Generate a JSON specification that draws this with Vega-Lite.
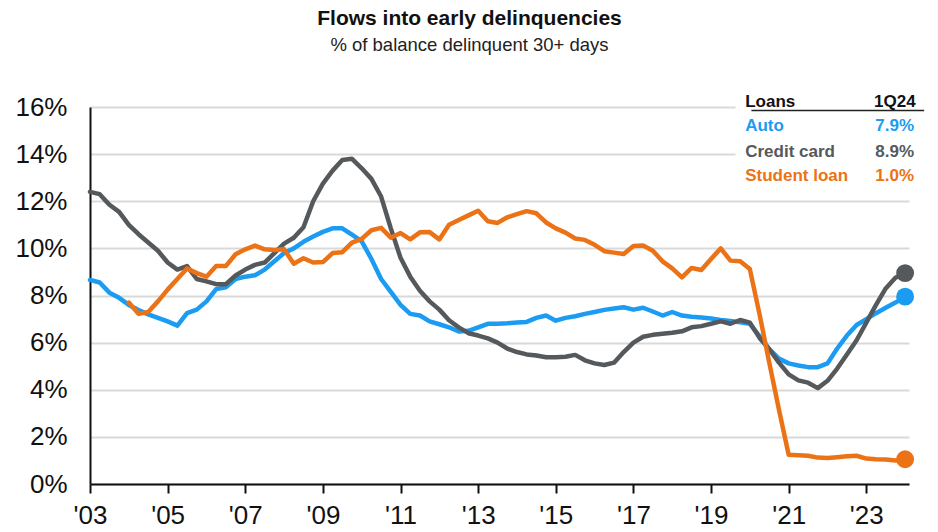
{
  "$schema": "https://vega.github.io/schema/vega-lite/v6.json",
  "width": 819,
  "height": 377,
  "autosize": {"type": "none"},
  "padding": {"left": 90, "top": 107, "right": 29, "bottom": 48},
  "background": "white",
  "config": {"view": {"stroke": null}, "font": "Liberation Sans"},
  "title": {
    "text": "Flows into early delinquencies",
    "subtitle": "% of balance delinquent 30+ days",
    "fontSize": 21,
    "fontWeight": "bold",
    "subtitleFontSize": 18.5,
    "color": "#111111",
    "subtitleColor": "#222222",
    "font": "Liberation Sans",
    "subtitleFont": "Liberation Sans",
    "anchor": "middle",
    "frame": "group",
    "dx": -30,
    "offset": 38,
    "subtitlePadding": 7
  },
  "datasets": {
    "series": [
      {"date": 2003.00, "Auto": 8.66, "Credit card": 12.4},
      {"date": 2003.25, "Auto": 8.55, "Credit card": 12.3},
      {"date": 2003.50, "Auto": 8.12, "Credit card": 11.85},
      {"date": 2003.75, "Auto": 7.9, "Credit card": 11.55},
      {"date": 2004.00, "Auto": 7.6, "Credit card": 11.0, "Student loan": 7.7},
      {"date": 2004.25, "Auto": 7.38, "Credit card": 10.6, "Student loan": 7.22},
      {"date": 2004.50, "Auto": 7.2, "Credit card": 10.25, "Student loan": 7.3},
      {"date": 2004.75, "Auto": 7.05, "Credit card": 9.9, "Student loan": 7.75},
      {"date": 2005.00, "Auto": 6.9, "Credit card": 9.4, "Student loan": 8.25},
      {"date": 2005.25, "Auto": 6.72, "Credit card": 9.1, "Student loan": 8.7},
      {"date": 2005.50, "Auto": 7.25, "Credit card": 9.25, "Student loan": 9.15},
      {"date": 2005.75, "Auto": 7.4, "Credit card": 8.7, "Student loan": 8.95},
      {"date": 2006.00, "Auto": 7.75, "Credit card": 8.6, "Student loan": 8.8},
      {"date": 2006.25, "Auto": 8.27, "Credit card": 8.48, "Student loan": 9.25},
      {"date": 2006.50, "Auto": 8.35, "Credit card": 8.48, "Student loan": 9.25},
      {"date": 2006.75, "Auto": 8.7, "Credit card": 8.85, "Student loan": 9.75},
      {"date": 2007.00, "Auto": 8.8, "Credit card": 9.1, "Student loan": 9.96},
      {"date": 2007.25, "Auto": 8.86, "Credit card": 9.3, "Student loan": 10.12},
      {"date": 2007.50, "Auto": 9.1, "Credit card": 9.4, "Student loan": 9.96},
      {"date": 2007.75, "Auto": 9.45, "Credit card": 9.8, "Student loan": 9.93},
      {"date": 2008.00, "Auto": 9.8, "Credit card": 10.2, "Student loan": 9.96},
      {"date": 2008.25, "Auto": 10.0, "Credit card": 10.45, "Student loan": 9.35},
      {"date": 2008.50, "Auto": 10.28, "Credit card": 10.9, "Student loan": 9.58},
      {"date": 2008.75, "Auto": 10.5, "Credit card": 12.0, "Student loan": 9.4},
      {"date": 2009.00, "Auto": 10.7, "Credit card": 12.75, "Student loan": 9.42},
      {"date": 2009.25, "Auto": 10.85, "Credit card": 13.3, "Student loan": 9.8},
      {"date": 2009.50, "Auto": 10.85, "Credit card": 13.75, "Student loan": 9.84},
      {"date": 2009.75, "Auto": 10.58, "Credit card": 13.8, "Student loan": 10.24},
      {"date": 2010.00, "Auto": 10.3, "Credit card": 13.4, "Student loan": 10.4},
      {"date": 2010.25, "Auto": 9.55, "Credit card": 12.95, "Student loan": 10.77},
      {"date": 2010.50, "Auto": 8.7, "Credit card": 12.2, "Student loan": 10.87},
      {"date": 2010.75, "Auto": 8.15, "Credit card": 10.85, "Student loan": 10.45},
      {"date": 2011.00, "Auto": 7.6, "Credit card": 9.6, "Student loan": 10.65},
      {"date": 2011.25, "Auto": 7.22, "Credit card": 8.8, "Student loan": 10.38},
      {"date": 2011.50, "Auto": 7.15, "Credit card": 8.2, "Student loan": 10.68},
      {"date": 2011.75, "Auto": 6.9, "Credit card": 7.75, "Student loan": 10.69},
      {"date": 2012.00, "Auto": 6.78, "Credit card": 7.4, "Student loan": 10.38},
      {"date": 2012.25, "Auto": 6.65, "Credit card": 6.95, "Student loan": 11.0},
      {"date": 2012.50, "Auto": 6.47, "Credit card": 6.65, "Student loan": 11.2},
      {"date": 2012.75, "Auto": 6.5, "Credit card": 6.4, "Student loan": 11.4},
      {"date": 2013.00, "Auto": 6.65, "Credit card": 6.3, "Student loan": 11.6},
      {"date": 2013.25, "Auto": 6.8, "Credit card": 6.18, "Student loan": 11.15},
      {"date": 2013.50, "Auto": 6.8, "Credit card": 6.0, "Student loan": 11.08},
      {"date": 2013.75, "Auto": 6.82, "Credit card": 5.75, "Student loan": 11.32},
      {"date": 2014.00, "Auto": 6.85, "Credit card": 5.6, "Student loan": 11.45},
      {"date": 2014.25, "Auto": 6.88, "Credit card": 5.5, "Student loan": 11.58},
      {"date": 2014.50, "Auto": 7.05, "Credit card": 5.45, "Student loan": 11.49},
      {"date": 2014.75, "Auto": 7.15, "Credit card": 5.38, "Student loan": 11.1},
      {"date": 2015.00, "Auto": 6.93, "Credit card": 5.38, "Student loan": 10.85},
      {"date": 2015.25, "Auto": 7.05, "Credit card": 5.4, "Student loan": 10.67},
      {"date": 2015.50, "Auto": 7.12, "Credit card": 5.48, "Student loan": 10.42},
      {"date": 2015.75, "Auto": 7.22, "Credit card": 5.25, "Student loan": 10.36},
      {"date": 2016.00, "Auto": 7.3, "Credit card": 5.12, "Student loan": 10.15},
      {"date": 2016.25, "Auto": 7.39, "Credit card": 5.05, "Student loan": 9.88},
      {"date": 2016.50, "Auto": 7.45, "Credit card": 5.15, "Student loan": 9.82},
      {"date": 2016.75, "Auto": 7.5, "Credit card": 5.6, "Student loan": 9.76},
      {"date": 2017.00, "Auto": 7.4, "Credit card": 6.0, "Student loan": 10.1},
      {"date": 2017.25, "Auto": 7.48, "Credit card": 6.25, "Student loan": 10.12},
      {"date": 2017.50, "Auto": 7.32, "Credit card": 6.33, "Student loan": 9.9},
      {"date": 2017.75, "Auto": 7.15, "Credit card": 6.38, "Student loan": 9.45},
      {"date": 2018.00, "Auto": 7.3, "Credit card": 6.42, "Student loan": 9.15},
      {"date": 2018.25, "Auto": 7.15, "Credit card": 6.48, "Student loan": 8.77},
      {"date": 2018.50, "Auto": 7.1, "Credit card": 6.65, "Student loan": 9.17},
      {"date": 2018.75, "Auto": 7.07, "Credit card": 6.7, "Student loan": 9.08},
      {"date": 2019.00, "Auto": 7.02, "Credit card": 6.8, "Student loan": 9.55},
      {"date": 2019.25, "Auto": 6.96, "Credit card": 6.9, "Student loan": 10.0},
      {"date": 2019.50, "Auto": 6.92, "Credit card": 6.8, "Student loan": 9.48},
      {"date": 2019.75, "Auto": 6.86, "Credit card": 6.96, "Student loan": 9.45},
      {"date": 2020.00, "Auto": 6.8, "Credit card": 6.85, "Student loan": 9.12},
      {"date": 2020.25, "Auto": 6.28, "Credit card": 6.2, "Student loan": 7.2},
      {"date": 2020.50, "Auto": 5.72, "Credit card": 5.72, "Student loan": 5.15},
      {"date": 2020.75, "Auto": 5.32, "Credit card": 5.15, "Student loan": 3.15},
      {"date": 2021.00, "Auto": 5.12, "Credit card": 4.65, "Student loan": 1.24},
      {"date": 2021.25, "Auto": 5.03, "Credit card": 4.4, "Student loan": 1.22},
      {"date": 2021.50, "Auto": 4.96, "Credit card": 4.3, "Student loan": 1.2},
      {"date": 2021.75, "Auto": 4.96, "Credit card": 4.07, "Student loan": 1.12},
      {"date": 2022.00, "Auto": 5.12, "Credit card": 4.38, "Student loan": 1.1},
      {"date": 2022.25, "Auto": 5.75, "Credit card": 4.9, "Student loan": 1.14},
      {"date": 2022.50, "Auto": 6.3, "Credit card": 5.5, "Student loan": 1.18},
      {"date": 2022.75, "Auto": 6.75, "Credit card": 6.1, "Student loan": 1.2},
      {"date": 2023.00, "Auto": 7.0, "Credit card": 6.85, "Student loan": 1.08},
      {"date": 2023.25, "Auto": 7.25, "Credit card": 7.6, "Student loan": 1.05},
      {"date": 2023.50, "Auto": 7.48, "Credit card": 8.3, "Student loan": 1.04},
      {"date": 2023.75, "Auto": 7.7, "Credit card": 8.75, "Student loan": 1.0},
      {"date": 2024.00, "Auto": 7.95, "Credit card": 8.95, "Student loan": 1.05}
    ],
    "table": [
      {"series": "Auto", "val": "7.9%"},
      {"series": "Credit card", "val": "8.9%"},
      {"series": "Student loan", "val": "1.0%"}
    ],
    "header": [{"a": "Loans", "b": "1Q24"}]
  },
  "layer": [
    {
      "data": {"name": "series"},
      "transform": [
        {"fold": ["Auto", "Credit card", "Student loan"], "as": ["series", "value"]},
        {"filter": "isValid(datum.value)"}
      ],
      "mark": {"type": "line", "strokeWidth": 4.5, "strokeJoin": "round", "strokeCap": "round"},
      "encoding": {
        "x": {
          "field": "date", "type": "quantitative", "title": null,
          "scale": {"domain": [2003, 2024.1], "nice": false, "zero": false},
          "axis": {
            "values": [2003, 2005, 2007, 2009, 2011, 2013, 2015, 2017, 2019, 2021, 2023],
            "labelExpr": "\"'\" + substring(toString(datum.value), 2, 4)",
            "grid": false,
            "domainColor": "#111111", "domainWidth": 2,
            "tickColor": "#111111", "tickWidth": 2, "tickSize": 9,
            "labelFontSize": 26, "labelColor": "#111111", "labelPadding": 9,
            "labelFlush": false, "labelBound": false, "labelOverlap": false,
            "labelFont": "Liberation Sans"
          }
        },
        "y": {
          "field": "value", "type": "quantitative", "title": null,
          "scale": {"domain": [0, 16], "nice": false, "zero": true},
          "axis": {
            "values": [0, 2, 4, 6, 8, 10, 12, 14, 16],
            "labelExpr": "datum.value + '%'",
            "grid": true, "gridColor": "#d9d9d9", "gridWidth": 2,
            "domainColor": "#111111", "domainWidth": 2,
            "ticks": false, "tickSize": 0,
            "labelFontSize": 26, "labelColor": "#111111", "labelPadding": 23,
            "labelFont": "Liberation Sans"
          }
        },
        "color": {
          "field": "series", "type": "nominal", "legend": null,
          "scale": {"domain": ["Auto", "Credit card", "Student loan"], "range": ["#1b9cf2", "#55595c", "#ec7216"]}
        }
      }
    },
    {
      "data": {"name": "series"},
      "transform": [
        {"fold": ["Auto", "Credit card", "Student loan"], "as": ["series", "value"]},
        {"filter": "isValid(datum.value) && datum.date == 2024"}
      ],
      "mark": {"type": "circle", "size": 320, "opacity": 1},
      "encoding": {
        "x": {"field": "date", "type": "quantitative", "title": null},
        "y": {"field": "value", "type": "quantitative", "title": null},
        "color": {"field": "series", "type": "nominal", "legend": null}
      }
    },
    {
      "data": {"values": [{}]},
      "mark": {"type": "rect", "color": "white"},
      "encoding": {
        "x": {"datum": 2019.63, "type": "quantitative", "title": null},
        "x2": {"datum": 2024.1},
        "y": {"datum": 12.5, "type": "quantitative", "title": null},
        "y2": {"datum": 16.3}
      }
    },
    {
      "data": {"name": "header"},
      "mark": {"type": "text", "align": "left", "baseline": "middle", "fontSize": 17, "fontWeight": "bold", "color": "#111111"},
      "encoding": {
        "x": {"datum": 2019.88, "type": "quantitative", "title": null},
        "y": {"datum": 16.23, "type": "quantitative", "title": null},
        "text": {"field": "a"}
      }
    },
    {
      "data": {"name": "header"},
      "mark": {"type": "text", "align": "right", "baseline": "middle", "fontSize": 17, "fontWeight": "bold", "color": "#111111"},
      "encoding": {
        "x": {"datum": 2024.27, "type": "quantitative", "title": null},
        "y": {"datum": 16.23, "type": "quantitative", "title": null},
        "text": {"field": "b"}
      }
    },
    {
      "data": {"values": [{}]},
      "mark": {"type": "rule", "color": "#222222", "strokeWidth": 1.5},
      "encoding": {
        "x": {"datum": 2020.04, "type": "quantitative", "title": null},
        "x2": {"datum": 2024.49},
        "y": {"datum": 15.85, "type": "quantitative", "title": null}
      }
    },
    {
      "data": {"name": "table"},
      "transform": [{"filter": "datum.series === 'Auto'"}],
      "mark": {"type": "text", "align": "left", "baseline": "middle", "fontSize": 17, "fontWeight": "bold"},
      "encoding": {
        "x": {"datum": 2019.88, "type": "quantitative", "title": null},
        "y": {"datum": 15.18, "type": "quantitative", "title": null},
        "text": {"field": "series"},
        "color": {"field": "series", "type": "nominal", "legend": null}
      }
    },
    {
      "data": {"name": "table"},
      "transform": [{"filter": "datum.series === 'Auto'"}],
      "mark": {"type": "text", "align": "right", "baseline": "middle", "fontSize": 17, "fontWeight": "bold"},
      "encoding": {
        "x": {"datum": 2024.23, "type": "quantitative", "title": null},
        "y": {"datum": 15.18, "type": "quantitative", "title": null},
        "text": {"field": "val"},
        "color": {"field": "series", "type": "nominal", "legend": null}
      }
    },
    {
      "data": {"name": "table"},
      "transform": [{"filter": "datum.series === 'Credit card'"}],
      "mark": {"type": "text", "align": "left", "baseline": "middle", "fontSize": 17, "fontWeight": "bold"},
      "encoding": {
        "x": {"datum": 2019.88, "type": "quantitative", "title": null},
        "y": {"datum": 14.11, "type": "quantitative", "title": null},
        "text": {"field": "series"},
        "color": {"field": "series", "type": "nominal", "legend": null}
      }
    },
    {
      "data": {"name": "table"},
      "transform": [{"filter": "datum.series === 'Credit card'"}],
      "mark": {"type": "text", "align": "right", "baseline": "middle", "fontSize": 17, "fontWeight": "bold"},
      "encoding": {
        "x": {"datum": 2024.23, "type": "quantitative", "title": null},
        "y": {"datum": 14.11, "type": "quantitative", "title": null},
        "text": {"field": "val"},
        "color": {"field": "series", "type": "nominal", "legend": null}
      }
    },
    {
      "data": {"name": "table"},
      "transform": [{"filter": "datum.series === 'Student loan'"}],
      "mark": {"type": "text", "align": "left", "baseline": "middle", "fontSize": 17, "fontWeight": "bold"},
      "encoding": {
        "x": {"datum": 2019.88, "type": "quantitative", "title": null},
        "y": {"datum": 13.06, "type": "quantitative", "title": null},
        "text": {"field": "series"},
        "color": {"field": "series", "type": "nominal", "legend": null}
      }
    },
    {
      "data": {"name": "table"},
      "transform": [{"filter": "datum.series === 'Student loan'"}],
      "mark": {"type": "text", "align": "right", "baseline": "middle", "fontSize": 17, "fontWeight": "bold"},
      "encoding": {
        "x": {"datum": 2024.23, "type": "quantitative", "title": null},
        "y": {"datum": 13.06, "type": "quantitative", "title": null},
        "text": {"field": "val"},
        "color": {"field": "series", "type": "nominal", "legend": null}
      }
    }
  ]
}
